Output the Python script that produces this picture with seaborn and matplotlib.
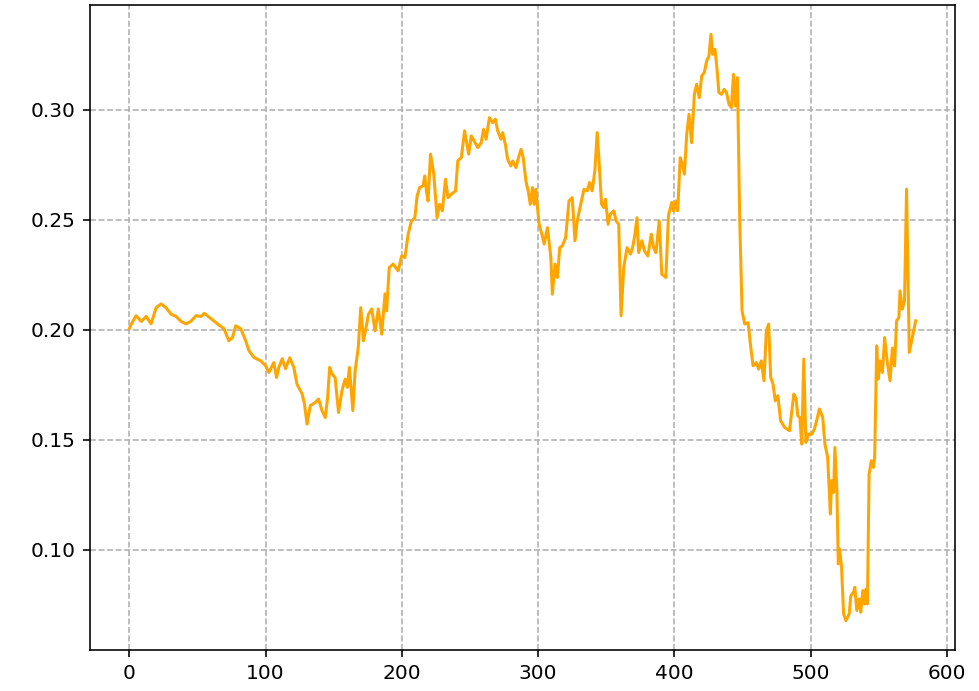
import matplotlib
matplotlib.use("Agg")
import matplotlib.pyplot as plt
import pandas as pd
import seaborn as sns

# step index of each reading
steps = [
    0, 1.5, 5, 8.8, 12.4, 16, 19.7, 23.4, 27, 30.7, 34.3, 38, 41.6, 45, 49, 52.6, 55, 60,
    64.7, 69.5, 73, 75.7, 78, 81.8,
    85.4, 87.8, 91.5, 96.4, 100, 102.4, 106, 108, 109.7, 112.2, 114.6, 117.7, 120.7, 123,
    126.8, 128.5, 130.4, 132.8, 136.5, 138.9, 141.4, 143.8, 145.5, 147, 148.7, 151, 153.5,
    156, 158.4, 160, 161.5, 164, 165.7, 168, 169.8, 171.8, 174.2,
    175.4, 177.9, 180.3, 182.7, 185.2, 187.6, 188.8, 190.7, 193.6, 197.3, 199.8, 202.2,
    204.6, 207, 209.5, 211.2, 213, 215.5, 216.8, 218, 219.2, 221, 223.4, 225.8, 227.7,
    229.7, 232, 233.8, 236.3, 239.4, 241, 243.6, 246, 249, 250.9,
    255.7, 258.2, 259.9, 261.8, 264.2, 266.6, 268.6, 270.3, 272.7, 273.9, 275.9, 277.6,
    280, 281.3, 283.7, 285.6, 287.4, 289, 291, 292.9, 294.2, 295.8, 297, 298.3, 299.5,
    300.7, 302.7, 304.4, 306.8, 309.3, 310.4, 312.4, 314.1, 315.8, 317.7, 320.2, 322.6,
    325, 327, 328.7,
    331.2, 333.6, 336, 337.7, 339.6, 341.6, 343.3, 344.5, 346.5, 348.2, 349.4, 351.3, 353,
    355.5, 357.2, 359.1, 360.8, 362.8, 365.2, 367.7, 369.3, 370.8, 372.5, 373.7, 376.1,
    378, 380.5, 383, 384.7, 386.4, 388.8, 390.7, 393.7, 395.6, 398, 399.3, 401, 402.4,
    404.2, 405.8, 407.3, 409, 410.7, 412.6, 414.6, 416.3, 418.2, 420, 421.9, 423.6, 425.3,
    426.8, 428, 429.7, 430.9, 432.6, 434.5, 436.5, 438.2, 440, 441.8, 443.3, 444.7, 446.2,
    447.9, 449.6,
    451.6, 454, 456, 457.7, 460.1, 461.8, 463.7, 465.7, 467.4, 469.1, 470.6, 472.3, 474,
    475.9, 477.9, 480.8, 484.4, 486.1, 487.6, 489.3, 490.5, 492, 493.4, 494.9, 496.4,
    498.3, 500.7, 502.7, 504.6, 506.3, 508.8, 510.4, 512.4,
    514.4, 515.3, 516.8, 517.7, 519.2, 520.2, 521.2, 522.6, 524.1, 525.8, 528.2, 529.4,
    531.4, 532.3, 533.8, 535.5, 536.7, 538.2, 539.6, 540.6, 541.6, 542.8, 544.5, 546,
    546.9, 548.4, 549.6, 550.9, 552.6, 554.2, 556.2, 558.2, 559.9, 561.5, 563, 564.7,
    565.5, 567.2, 568.8, 570.3, 572.3, 577,
]

values = [
    0.2005, 0.2027, 0.2064, 0.2038, 0.2061, 0.2027, 0.2101, 0.2118, 0.2100, 0.2071, 0.2061,
    0.2038, 0.2027, 0.2038, 0.2064, 0.2061, 0.2075, 0.2050, 0.2027, 0.2005, 0.1950, 0.1965,
    0.2018, 0.2005,
    0.1950, 0.1905, 0.1874, 0.1859, 0.1836, 0.1806, 0.1851, 0.1783, 0.1829, 0.1868, 0.1823,
    0.1873, 0.1829, 0.1753, 0.1708, 0.1664, 0.1571, 0.1655, 0.1670, 0.1685, 0.1632, 0.1601,
    0.1692, 0.1829, 0.1799, 0.1783, 0.1624, 0.1723, 0.1776, 0.1738, 0.1829, 0.1632, 0.1814,
    0.1920, 0.2101, 0.1950, 0.2026,
    0.2070, 0.2095, 0.1995, 0.2095, 0.1980, 0.2164, 0.2086, 0.2283, 0.2299, 0.2268, 0.2336,
    0.2329, 0.2435, 0.2495, 0.2510, 0.2609, 0.2647, 0.2655, 0.2700, 0.2632, 0.2586, 0.2799,
    0.2708, 0.2510, 0.2571, 0.2541, 0.2685, 0.2601, 0.2617, 0.2632, 0.2768, 0.2783, 0.2905,
    0.2799, 0.2882,
    0.2829, 0.2851, 0.2912, 0.2867, 0.2965, 0.2942, 0.2958, 0.2905, 0.2867, 0.2897, 0.2844,
    0.2776, 0.2745, 0.2768, 0.2738, 0.2783, 0.2821, 0.2783, 0.2677, 0.2624, 0.2571, 0.2647,
    0.2571, 0.2639, 0.2556, 0.2480, 0.2435, 0.2390, 0.2465, 0.2329, 0.2162, 0.2299, 0.2238,
    0.2374, 0.2382, 0.2420, 0.2586, 0.2601, 0.2405, 0.2495,
    0.2571, 0.2639, 0.2632, 0.2670, 0.2632, 0.2723, 0.2897, 0.2783, 0.2571, 0.2556, 0.2594,
    0.2480, 0.2526, 0.2541, 0.2495, 0.2480, 0.2064, 0.2283, 0.2374, 0.2344, 0.2374, 0.2427,
    0.2510, 0.2351, 0.2405, 0.2359, 0.2336, 0.2435, 0.2374, 0.2351, 0.2495, 0.2253, 0.2238,
    0.2520, 0.2579, 0.2541, 0.2586, 0.2541,
    0.2783, 0.2753, 0.2708, 0.2890, 0.2980, 0.2851, 0.3071, 0.3117, 0.3056, 0.3155, 0.3170,
    0.3223, 0.3245, 0.3344, 0.3253, 0.3276, 0.3208, 0.3079, 0.3071, 0.3094, 0.3079, 0.3026,
    0.3011, 0.3162, 0.3018, 0.3147, 0.2495, 0.2086,
    0.2026, 0.2033, 0.1920, 0.1836, 0.1851, 0.1821, 0.1859, 0.1768, 0.1995, 0.2026, 0.1783,
    0.1753, 0.1677, 0.1700, 0.1586, 0.1556, 0.1541, 0.1632, 0.1708, 0.1685, 0.1609, 0.1601,
    0.1480, 0.1867, 0.1488, 0.1526, 0.1526, 0.1549, 0.1594, 0.1640, 0.1601, 0.1480, 0.1420,
    0.1162, 0.1314, 0.1260, 0.1465, 0.1268, 0.0935, 0.1003, 0.0920, 0.0708, 0.0677, 0.0708,
    0.0791, 0.0806, 0.0829, 0.0723, 0.0776, 0.0715, 0.0814, 0.0753, 0.0821, 0.0753, 0.1344,
    0.1405, 0.1374, 0.1420, 0.1927, 0.1776, 0.1859, 0.1806, 0.1965, 0.1851, 0.1768, 0.1917,
    0.1836, 0.2041, 0.2056, 0.2177, 0.2094, 0.2132, 0.2640, 0.1897, 0.2041,
]

df = pd.DataFrame({"step": steps, "value": values})

DPI = 145
fig = plt.figure(figsize=(979 / DPI, 691 / DPI), dpi=DPI)
ax = fig.add_axes([90 / 979, 41 / 691, 865 / 979, 645 / 691])

sns.lineplot(data=df, x="step", y="value", color="orange", linewidth=1.5,
             estimator=None, sort=False, ax=ax)

ax.grid(True, linestyle="--", color="#b0b0b0", linewidth=0.8)
ax.set_axisbelow(True)
ax.set_xlabel("")
ax.set_ylabel("")
ax.set_xticks([0, 100, 200, 300, 400, 500, 600])
ax.set_yticks([0.10, 0.15, 0.20, 0.25, 0.30])

fig.savefig("out.png", dpi=DPI)
